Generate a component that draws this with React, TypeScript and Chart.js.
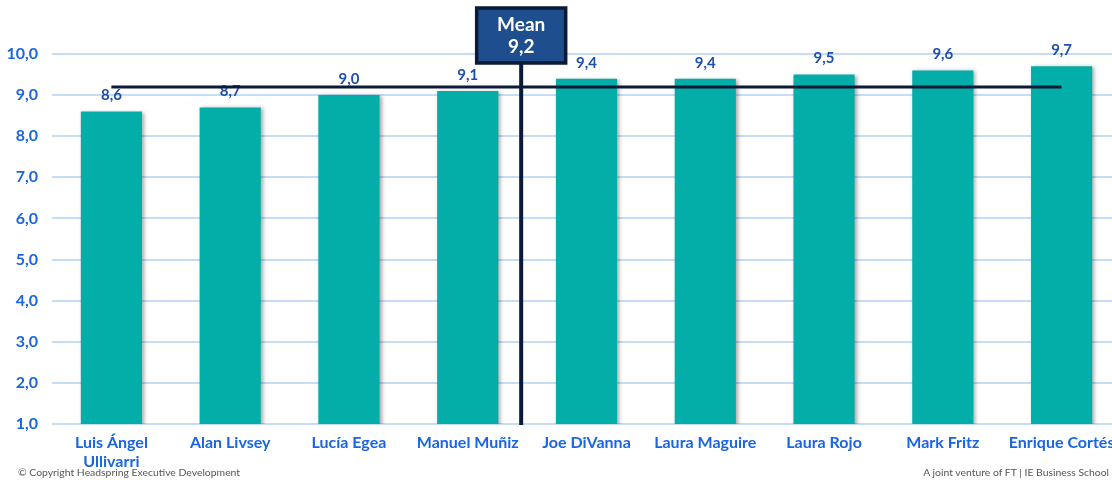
import React, { useEffect, useRef } from "react";
import { Chart, registerables } from "chart.js";

Chart.register(...registerables);

// Speaker scores
const speakers: (string | string[])[] = [
  ["Luis Ángel", "Ullivarri"],
  "Alan Livsey",
  "Lucía Egea",
  "Manuel Muñiz",
  "Joe DiVanna",
  "Laura Maguire",
  "Laura Rojo",
  "Mark Fritz",
  "Enrique Cortés",
];
const scores: number[] = [8.6, 8.7, 9.0, 9.1, 9.4, 9.4, 9.5, 9.6, 9.7];
const yTicks: number[] = [1, 2, 3, 4, 5, 6, 7, 8, 9, 10];

const MEAN_VALUE = 9.2;
const MEAN_TITLE = "Mean";
// Category position where the mean marker's vertical stem sits
const MEAN_MARKER_POS = 3.45;

const FONT = "Lato, 'Open Sans', sans-serif";
const BAR_COLOR = "#02aea7";
const NAVY = "#0b1a36";
const BOX_FILL = "#1f4e8f";
const TICK_BLUE = "#1a66e0";
const LABEL_BLUE = "#1f4fae";
const GRID = "#c6ddf8";

const fmt = (v: number) => v.toFixed(1).replace(".", ",");

const barShadow = {
  id: "barShadow",
  beforeDatasetDraw(chart: any) {
    const ctx = chart.ctx;
    ctx.save();
    ctx.shadowColor = "rgba(0,0,0,0.35)";
    ctx.shadowBlur = 4;
    ctx.shadowOffsetX = 2;
    ctx.shadowOffsetY = 1;
  },
  afterDatasetDraw(chart: any) {
    chart.ctx.restore();
  },
};

const overlay = {
  id: "overlay",
  afterDatasetsDraw(chart: any) {
    const { ctx, scales } = chart;
    const x = scales.x;
    const y = scales.y;
    const meta = chart.getDatasetMeta(0);

    // value labels above bars
    ctx.save();
    ctx.font = `bold 15px ${FONT}`;
    ctx.fillStyle = LABEL_BLUE;
    ctx.textAlign = "center";
    ctx.textBaseline = "middle";
    meta.data.forEach((bar: any, i: number) => {
      ctx.fillText(fmt(scores[i]), bar.x, bar.y - 16);
    });

    // horizontal mean line across first to last bar centres
    const my = y.getPixelForValue(MEAN_VALUE);
    ctx.strokeStyle = NAVY;
    ctx.lineWidth = 3;
    ctx.beginPath();
    ctx.moveTo(x.getPixelForValue(0), my);
    ctx.lineTo(x.getPixelForValue(scores.length - 1), my);
    ctx.stroke();

    // vertical stem and label box
    const sx = x.getPixelForValue(MEAN_MARKER_POS);
    const boxW = 89;
    const boxH = 55;
    const boxTop = 8;
    ctx.lineWidth = 4;
    ctx.beginPath();
    ctx.moveTo(sx, boxTop + boxH);
    ctx.lineTo(sx, chart.chartArea.bottom + 1);
    ctx.stroke();

    ctx.fillStyle = BOX_FILL;
    ctx.fillRect(sx - boxW / 2, boxTop, boxW, boxH);
    ctx.lineWidth = 3.5;
    ctx.strokeStyle = NAVY;
    ctx.strokeRect(sx - boxW / 2, boxTop, boxW, boxH);

    ctx.fillStyle = "#ffffff";
    ctx.font = `bold 19px ${FONT}`;
    ctx.fillText(MEAN_TITLE, sx, 25);
    ctx.fillText(fmt(MEAN_VALUE), sx, 47);
    ctx.restore();
  },
};

export default function App() {
  const canvasRef = useRef<HTMLCanvasElement | null>(null);

  useEffect(() => {
    if (!canvasRef.current) return;
    const chart = new Chart(canvasRef.current, {
      type: "bar",
      data: {
        labels: speakers,
        datasets: [
          {
            data: scores,
            backgroundColor: BAR_COLOR,
            barPercentage: 0.515,
            categoryPercentage: 1,
          },
        ],
      },
      plugins: [barShadow, overlay],
      options: {
        animation: false,
        responsive: false,
        devicePixelRatio: 1,
        layout: { padding: { top: 54, right: 9, left: 0, bottom: 0 } },
        plugins: {
          legend: { display: false },
          tooltip: { enabled: false },
        },
        scales: {
          x: {
            grid: { display: false, drawTicks: false },
            border: { display: false },
            ticks: {
              color: TICK_BLUE,
              font: { family: FONT, size: 16, weight: "bold", lineHeight: 1.15 },
              padding: 10,
              maxRotation: 0,
              autoSkip: false,
            },
            afterFit(scale: any) {
              scale.height = 59;
            },
          },
          y: {
            min: 1,
            max: 10,
            afterBuildTicks(scale: any) {
              scale.ticks = yTicks.map((v) => ({ value: v }));
            },
            grid: { color: GRID, lineWidth: 2, drawTicks: false },
            border: { display: false },
            ticks: {
              color: TICK_BLUE,
              font: { family: FONT, size: 16, weight: "bold" },
              padding: 14,
              callback: (v: any) => fmt(Number(v)),
            },
            afterFit(scale: any) {
              scale.width = 52;
            },
          },
        },
      },
    });
    return () => chart.destroy();
  }, []);

  return (
    <div
      style={{
        position: "fixed",
        left: 0,
        top: 0,
        width: 1112,
        height: 483,
        overflow: "hidden",
        background: "#ffffff",
      }}
    >
      <canvas
        ref={canvasRef}
        width={1130}
        height={483}
        style={{ position: "absolute", left: 0, top: 0, width: 1130, height: 483 }}
      />
      <div
        style={{
          position: "absolute",
          left: 18,
          top: 466,
          fontFamily: FONT,
          fontSize: 10.4,
          color: "#555555",
          whiteSpace: "nowrap",
        }}
      >
        © Copyright Headspring Executive Development
      </div>
      <div
        style={{
          position: "absolute",
          right: 3,
          top: 466,
          fontFamily: FONT,
          fontSize: 10.4,
          color: "#555555",
          whiteSpace: "nowrap",
        }}
      >
        A joint venture of FT | IE Business School
      </div>
    </div>
  );
}
